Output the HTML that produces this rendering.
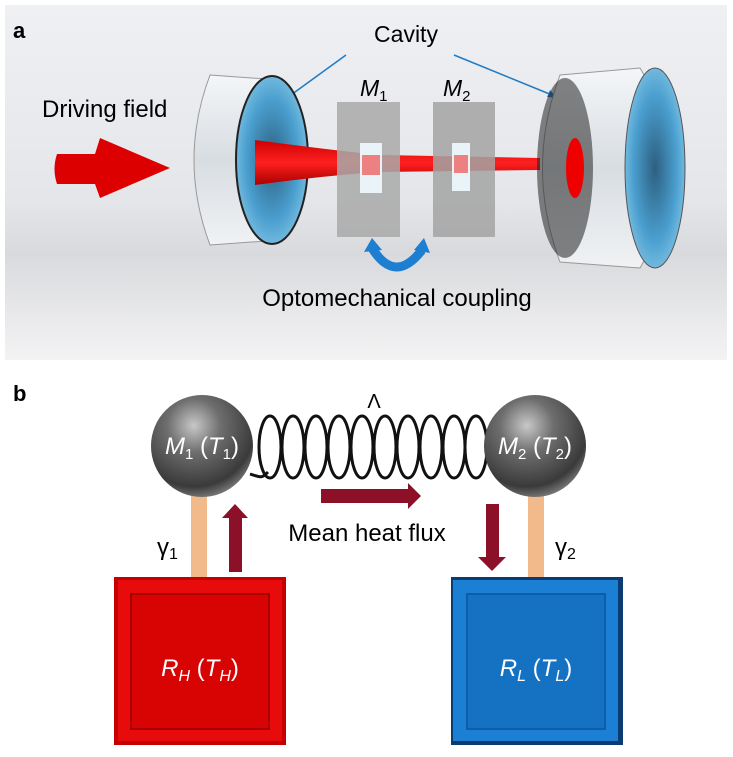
<!DOCTYPE html>
<html><head><meta charset="utf-8"><style>
html,body{margin:0;padding:0;background:#fff;width:733px;height:757px;overflow:hidden}
svg{display:block}
text{font-family:"Liberation Sans",Arial,sans-serif}
</style></head><body>
<svg width="733" height="757" viewBox="0 0 733 757" xmlns="http://www.w3.org/2000/svg">
<defs>
<linearGradient id="bg" x1="0" y1="0" x2="0" y2="1">
<stop offset="0" stop-color="#eef0f3"/><stop offset="0.55" stop-color="#e4e6ea"/><stop offset="0.7" stop-color="#d9dadd"/><stop offset="1" stop-color="#f3f3f4"/></linearGradient>
<radialGradient id="ball" cx="0.42" cy="0.3" r="0.75">
<stop offset="0" stop-color="#c8c8c8"/><stop offset="0.35" stop-color="#6e6e6e"/><stop offset="0.8" stop-color="#3a3a3a"/><stop offset="1" stop-color="#8a8a8a"/></radialGradient>
<linearGradient id="cyl" x1="0" y1="0" x2="0" y2="1">
<stop offset="0" stop-color="#f4f6f8"/><stop offset="0.5" stop-color="#d8dde2"/><stop offset="1" stop-color="#f0f2f4"/></linearGradient>
<radialGradient id="lens" cx="0.5" cy="0.5" r="0.6"><stop offset="0" stop-color="#2d5f80"/><stop offset="0.6" stop-color="#4a9fcf"/><stop offset="1" stop-color="#8ccbe8"/></radialGradient>
<linearGradient id="beam" x1="0" y1="0" x2="0" y2="1"><stop offset="0" stop-color="#c00"/><stop offset="0.5" stop-color="#ff2020"/><stop offset="1" stop-color="#a00"/></linearGradient>
</defs>
<rect x="5" y="5" width="722" height="355" fill="url(#bg)"/>
<text x="13" y="38" font-size="22" font-weight="bold">a</text>
<text x="406" y="42" font-size="23" text-anchor="middle">Cavity</text>
<line x1="346" y1="55" x2="284" y2="100" stroke="#1f7bc4" stroke-width="1.5"/>
<polygon points="280,103 286,95 290,101" fill="#1f7bc4"/>
<line x1="454" y1="55" x2="552" y2="95" stroke="#1f7bc4" stroke-width="1.5"/>
<polygon points="557,98 547,97 550,90" fill="#1f7bc4"/>
<text x="42" y="117" font-size="24">Driving field</text>
<path d="M57,154 L95,154 L100,138 L170,168 L100,198 L95,184 L57,184 Q52,169 57,154 Z" fill="#d00" />
<path d="M210,75 L280,80 Q305,160 280,240 L210,245 Q178,160 210,75 Z" fill="url(#cyl)" stroke="#999" stroke-width="1"/>
<ellipse cx="272" cy="160" rx="36" ry="84" fill="url(#lens)" stroke="#222" stroke-width="2"/>
<path d="M255,140 Q330,150 380,155 L540,158 L540,170 L380,172 Q330,175 255,185 Z" fill="url(#beam)"/>
<rect x="337" y="102" width="63" height="135" fill="#a9a9a9" opacity="0.85"/>
<rect x="360" y="143" width="22" height="50" fill="#eaf4f8"/>
<rect x="362" y="155" width="18" height="20" fill="#e33" opacity="0.6"/>
<rect x="433" y="102" width="62" height="135" fill="#a3a3a3" opacity="0.85"/>
<rect x="452" y="143" width="18" height="48" fill="#eaf4f8"/>
<rect x="454" y="155" width="14" height="18" fill="#e33" opacity="0.6"/>
<text x="360" y="96" font-size="23" font-style="italic">M<tspan font-size="15" dy="5" font-style="normal">1</tspan></text>
<text x="443" y="96" font-size="23" font-style="italic">M<tspan font-size="15" dy="5" font-style="normal">2</tspan></text>
<path d="M560,75 L640,68 Q700,165 640,268 L560,262 Q525,168 560,75 Z" fill="url(#cyl)" stroke="#999"/>
<ellipse cx="565" cy="168" rx="28" ry="90" fill="#222" opacity="0.55"/>
<ellipse cx="655" cy="168" rx="30" ry="100" fill="url(#lens)" stroke="#555"/>
<ellipse cx="575" cy="168" rx="9" ry="30" fill="#e00"/>
<path d="M372,248 Q395,285 422,250" fill="none" stroke="#1e7ed0" stroke-width="9"/>
<polygon points="364,252 372,238 382,250" fill="#1e7ed0"/>
<polygon points="414,250 424,238 430,253" fill="#1e7ed0"/>
<text x="397" y="306" font-size="24" text-anchor="middle">Optomechanical coupling</text>
<text x="13" y="401" font-size="22" font-weight="bold">b</text>
<text x="374" y="408" font-size="20" font-family="Liberation Serif" text-anchor="middle">Λ</text>
<rect x="191" y="490" width="16" height="88" fill="#f2b98a"/>
<rect x="528" y="490" width="16" height="88" fill="#f2b98a"/>
<g fill="none" stroke="#111" stroke-width="3">
<path d="M250,474 C262,478 262,478 268,472"/>
<ellipse cx="270" cy="447" rx="11" ry="31"/><ellipse cx="293" cy="447" rx="11" ry="31"/><ellipse cx="316" cy="447" rx="11" ry="31"/><ellipse cx="339" cy="447" rx="11" ry="31"/><ellipse cx="362" cy="447" rx="11" ry="31"/><ellipse cx="385" cy="447" rx="11" ry="31"/><ellipse cx="408" cy="447" rx="11" ry="31"/><ellipse cx="431" cy="447" rx="11" ry="31"/><ellipse cx="454" cy="447" rx="11" ry="31"/><ellipse cx="476" cy="447" rx="11" ry="31"/>
</g>
<circle cx="202" cy="446" r="51" fill="url(#ball)"/>
<circle cx="535" cy="446" r="51" fill="url(#ball)"/>
<text x="202" y="454" font-size="24" fill="#fff" text-anchor="middle"><tspan font-style="italic">M</tspan><tspan font-size="15" dy="5">1</tspan><tspan dy="-5"> (</tspan><tspan font-style="italic">T</tspan><tspan font-size="15" dy="5">1</tspan><tspan dy="-5">)</tspan></text>
<text x="535" y="454" font-size="24" fill="#fff" text-anchor="middle"><tspan font-style="italic">M</tspan><tspan font-size="15" dy="5">2</tspan><tspan dy="-5"> (</tspan><tspan font-style="italic">T</tspan><tspan font-size="15" dy="5">2</tspan><tspan dy="-5">)</tspan></text>
<polygon points="229,572 242,572 242,518 248,518 235,504 222,518 229,518" fill="#8b1028"/>
<polygon points="321,489 408,489 408,483 421,496 408,509 408,503 321,503" fill="#8b1028"/>
<polygon points="486,504 499,504 499,557 506,557 492,571 478,557 486,557" fill="#8b1028"/>
<text x="367" y="541" font-size="24" text-anchor="middle">Mean heat flux</text>
<text x="157" y="555" font-size="24" font-family="Liberation Serif">γ<tspan font-size="16" dy="4" font-family="Liberation Sans">1</tspan></text>
<text x="555" y="555" font-size="24" font-family="Liberation Serif">γ<tspan font-size="16" dy="4" font-family="Liberation Sans">2</tspan></text>
<rect x="114" y="577" width="172" height="168" fill="#c60000"/>
<rect x="118" y="580" width="164" height="161" fill="#e80b0b"/>
<rect x="131" y="594" width="138" height="135" fill="#d80303" stroke="#a00" stroke-width="2"/>
<rect x="451" y="577" width="172" height="168" fill="#0a3c73"/>
<rect x="453" y="580" width="165" height="161" fill="#1b7fd3"/>
<rect x="467" y="594" width="138" height="135" fill="#1572c3" stroke="#0d5ea8" stroke-width="2"/>
<text x="200" y="676" font-size="24" fill="#fff" text-anchor="middle"><tspan font-style="italic">R</tspan><tspan font-size="16" dy="5" font-style="italic">H</tspan><tspan dy="-5"> (</tspan><tspan font-style="italic">T</tspan><tspan font-size="16" dy="5" font-style="italic">H</tspan><tspan dy="-5">)</tspan></text>
<text x="536" y="676" font-size="24" fill="#fff" text-anchor="middle"><tspan font-style="italic">R</tspan><tspan font-size="16" dy="5" font-style="italic">L</tspan><tspan dy="-5"> (</tspan><tspan font-style="italic">T</tspan><tspan font-size="16" dy="5" font-style="italic">L</tspan><tspan dy="-5">)</tspan></text>
</svg>
</body></html>
